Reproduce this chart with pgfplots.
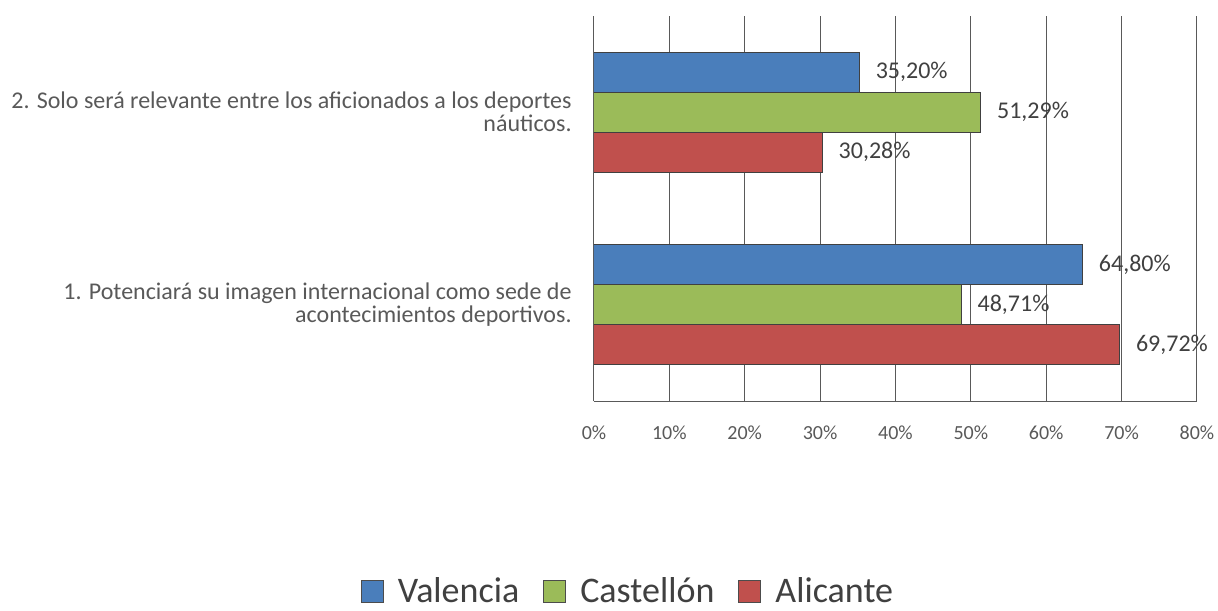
\documentclass[border=0pt]{standalone}
\usepackage{fontspec}
\setmainfont{Carlito}
\usepackage{pgfplots}
\pgfplotsset{compat=1.18}
\definecolor{valencia}{HTML}{4A7EBB}
\definecolor{castellon}{HTML}{9BBB59}
\definecolor{alicante}{HTML}{C0504D}
\definecolor{gridgray}{HTML}{595959}
\definecolor{textgray}{HTML}{404040}

\begin{document}
\begin{tikzpicture}
% 1 px of the reference = 0.5pt
\useasboundingbox (-297pt,-104.5pt) rectangle (312pt,200.5pt);
\begin{axis}[
    at={(0,0)}, anchor=south west,
    scale only axis, width=301.5pt, height=192.5pt,
    xbar, bar width=20pt,
    xmin=0, xmax=80, ymin=-0.5, ymax=1.5,
    /pgf/number format/assume math mode=true,
    xtick={0,10,...,80},
    xticklabel={\pgfmathprintnumber{\tick}\%},
    ytick={0,1},
    yticklabels={{1. Potenciará su imagen internacional como sede de\\acontecimientos deportivos.},
                 {2. Solo será relevante entre los aficionados a los deportes\\náuticos.}},
    major tick length=0pt,
    xmajorgrids, major grid style={gridgray, line width=0.5pt},
    axis x line*=bottom, axis y line*=left,
    x axis line style={-}, y axis line style={-},
    axis line style={gridgray, line width=0.5pt},
    xticklabel style={font=\fontsize{10}{12}\selectfont, text=gridgray, yshift=-9pt},
    yticklabel style={font=\fontsize{12}{11.5}\selectfont, text=gridgray, align=right, inner sep=0pt, xshift=-11pt},
    nodes near coords={\pgfmathprintnumber[fixed, fixed zerofill, precision=2, use comma]{\pgfplotspointmeta}\%},
    every node near coord/.append style={font=\fontsize{12}{13}\selectfont, text=textgray, anchor=west, inner sep=0pt, xshift=8pt},
    legend style={at={(0.058,-0.495)}, anchor=center, draw=none, legend columns=-1,
        font=\fontsize{18}{19}\selectfont, text=textgray, inner sep=0pt,
        /tikz/every odd column/.append style={column sep=5pt},
        /tikz/every even column/.append style={column sep=10pt}},
    legend image code/.code={\draw[#1, draw=black!70, line width=0.5pt] (0pt,-5.5pt) rectangle (11pt,5.5pt);},
]
\addplot[fill=valencia, draw=black!75, line width=0.5pt, bar shift=20pt] coordinates {(64.80,0) (35.20,1)};
\addplot[fill=castellon, draw=black!75, line width=0.5pt, bar shift=0pt] coordinates {(48.71,0) (51.29,1)};
\addplot[fill=alicante, draw=black!75, line width=0.5pt, bar shift=-20pt] coordinates {(69.72,0) (30.28,1)};
\legend{Valencia, Castellón, Alicante}
\end{axis}
\end{tikzpicture}
\end{document}
